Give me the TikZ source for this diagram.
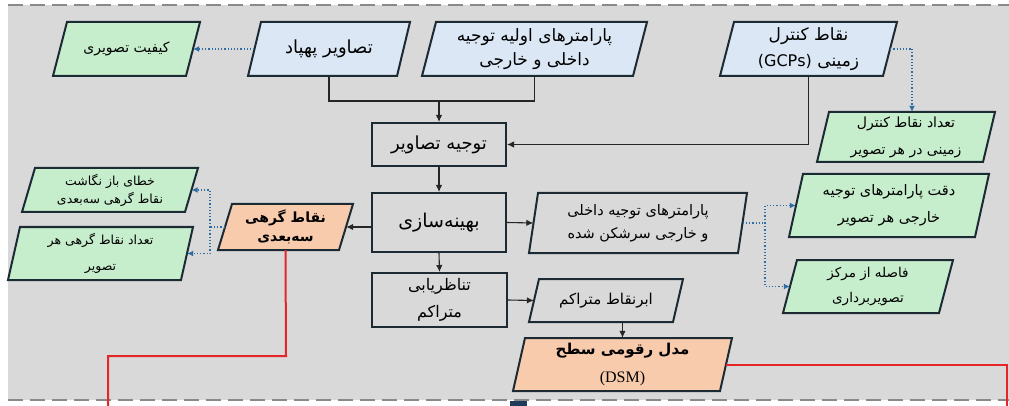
\documentclass[tikz,border=0pt]{standalone}
\usepackage{fontspec}
\setmainfont{Liberation Serif}
\newfontfamily\arabicfont[Script=Arabic]{DejaVu Sans}
\TeXXeTstate=1
\usetikzlibrary{arrows.meta}
\definecolor{bgG}{HTML}{D9D9D9}
\definecolor{blueF}{HTML}{DBE7F4}
\definecolor{greenF}{HTML}{C6EECD}
\definecolor{salmonF}{HTML}{F8CBAD}
\definecolor{edgeC}{HTML}{1C2B33}
\definecolor{dotC}{HTML}{2E6DA4}
\definecolor{redC}{HTML}{E4262B}
\definecolor{dashC}{HTML}{8A8A8A}
\definecolor{navyC}{HTML}{1F3A5A}
\newcommand\fa[1]{{\arabicfont\beginR #1\endR}}
\newcommand\fab[1]{{\arabicfont\bfseries\beginR #1\endR}}
% #1 name, #2 fill, #3 x0, #4 y0, #5 x1, #6 y1, #7 slant, #8 text style, #9 text
\newcommand\pgm[9]{%
  \filldraw[shapeline, fill=#2] ({#3+#7},{#4}) -- ({#5},{#4}) -- ({#5-#7},{#6}) -- ({#3},{#6}) -- cycle;
  \node[pgtext, #8, minimum width={#5-#3-#7}, minimum height={#6-#4}] (#1) at ({(#3+#5)/2},{(#4+#6)/2}) {#9};
}
\tikzset{
  shapeline/.style={draw=edgeC, line width=2pt, line join=miter},
  pgtext/.style={draw=none, inner sep=0pt, align=center, text=black},
  rectbox/.style={draw=edgeC, line width=2pt, fill=bgG, inner sep=0pt, align=center},
  conn/.style={draw=black!85, line width=1.1pt, -{Latex[length=7pt,width=6.5pt]}},
  plainconn/.style={draw=black!85, line width=1.1pt},
  dotconn/.style={draw=dotC, line width=1.2pt, dotted, -{Latex[length=6pt,width=6pt]}},
  dotplain/.style={draw=dotC, line width=1.2pt, dotted},
  redline/.style={draw=redC, line width=2pt},
  dashline/.style={draw=dashC, line width=2.5pt, dash pattern=on 15pt off 7pt},
}
\begin{document}
\begin{tikzpicture}[x=1pt,y=-1pt]
\useasboundingbox (0,0) rectangle (1009,406);
\fill[bgG] (8,5) rectangle (1009,400);
\draw[dashline] (8,5) -- (1009,5);
\draw[dashline] (8,400) -- (1009,400);
\fill[navyC] (510,401) rectangle (527,406);

% top row
\pgm{kif}{greenF}{53}{22}{200}{76}{14}{font=\fontsize{14}{20}\selectfont}{\fa{کیفیت تصویری}}
\pgm{uav}{blueF}{248}{22}{410}{76}{13}{font=\fontsize{18}{20}\selectfont}{\fa{تصاویر پهپاد}}
\pgm{par}{blueF}{422}{22}{647}{76}{14}{font=\fontsize{17}{24}\selectfont}{\fa{پارامترهای اولیه توجیه}\\\fa{داخلی و خارجی}}
\pgm{gcp}{blueF}{720}{22}{897}{76}{14}{font=\fontsize{17}{26}\selectfont}{\fa{نقاط کنترل}\\\fa{زمینی \beginL{\fontsize{16}{26}\selectfont(GCPs)}\endL}}

% right green boxes
\pgm{gnum}{greenF}{817}{112}{995}{162}{12}{font=\fontsize{14}{27}\selectfont}{\fa{تعداد نقاط کنترل}\\\fa{زمینی در هر تصویر}}
\pgm{gacc}{greenF}{789}{174}{989}{237}{14}{font=\fontsize{14.5}{27}\selectfont}{\fa{دقت پارامترهای توجیه}\\\fa{خارجی هر تصویر}}
\pgm{gdist}{greenF}{783}{260}{953}{313}{14}{font=\fontsize{13.5}{25}\selectfont}{\fa{فاصله از مرکز}\\\fa{تصویربرداری}}

% left green boxes
\pgm{gerr}{greenF}{22}{168}{198}{212}{13}{font=\fontsize{12.5}{18}\selectfont}{\fa{خطای باز نگاشت}\\\fa{نقاط گرهی سه‌بعدی}}
\pgm{gtie}{greenF}{8}{227}{193}{280}{12}{font=\fontsize{12.5}{26}\selectfont}{\fa{تعداد نقاط گرهی هر}\\\fa{تصویر}}

% tie points
\pgm{tie}{salmonF}{218}{204}{353}{250}{14}{font=\fontsize{14}{19}\selectfont}{\fab{نقاط گرهی}\\\fab{سه‌بعدی}}

% central boxes
\node[rectbox, minimum width=134, minimum height=43, font=\fontsize{18}{20}\selectfont] (ori) at (439,144.5) {\fa{توجیه تصاویر}};
\node[rectbox, minimum width=134, minimum height=59, font=\fontsize{19}{20}\selectfont] (opt) at (439,222.5) {\fa{بهینه‌سازی}};
\node[rectbox, minimum width=135, minimum height=54, font=\fontsize{16}{27}\selectfont] (mat) at (439.5,300) {\fa{تناظریابی}\\\fa{متراکم}};

% gray parallelograms
\pgm{adj}{bgG}{529}{193}{747}{253}{9}{font=\fontsize{14.5}{23}\selectfont}{\fa{پارامترهای توجیه داخلی}\\\fa{و خارجی سرشکن شده}}
\pgm{dense}{bgG}{529}{279}{683}{322}{10}{font=\fontsize{15}{20}\selectfont}{\fa{ابرنقاط متراکم}}

% DSM
\pgm{dsm}{salmonF}{513}{338}{732}{391}{12}{font=\fontsize{15}{28}\selectfont}{\fab{مدل رقومی سطح}\\{\fontsize{16}{28}\selectfont (DSM)}}

% connectors
\coordinate (merge) at (439,101);
\draw[plainconn] (uav.south) |- (merge);
\draw[plainconn] (par.south) |- (merge);
\draw[conn] (merge) -- (ori.north);
\draw[conn] (gcp.south) |- (ori.east);
\draw[conn] (ori.south) -- (opt.north);
\draw[conn] (opt.south) -- (mat.north);
\draw[conn] (opt.east) -- (adj.west);
\draw[conn] (opt.west |- tie.east) -- (tie.east);
\draw[conn] (mat.east) -- (dense.west);
\draw[conn] (dsm.north |- dense.south) -- (dsm.north);

% dotted connectors
\draw[dotconn] (uav.west) -- (kif.east);
\coordinate (gcpj) at (912,49);
\draw[dotplain] (gcp.east) -- (gcpj);
\draw[dotconn] (gcpj) -- (gcpj |- gnum.north);
\coordinate (adjj) at (765,223);
\draw[dotplain] (adj.east) -- (adjj);
\draw[dotconn] (adjj) |- (gacc.west);
\draw[dotconn] (adjj) |- (gdist.west);
\coordinate (tiej) at (210,227);
\draw[dotplain] (tie.west) -- (tiej);
\draw[dotconn] (tiej) |- (gerr.east);
\draw[dotconn] (tiej) |- (gtie.east);

% red lines
\coordinate (r1) at (286,356);
\coordinate (r2) at (108,356);
\coordinate (r3) at (108,406);
\draw[redline] (tie.south) -- (r1) -- (r2) -- (r3);
\coordinate (r4) at (1007,364.5);
\coordinate (r5) at (1007,406);
\draw[redline] (dsm.east) -- (r4) -- (r5);
\end{tikzpicture}
\end{document}
